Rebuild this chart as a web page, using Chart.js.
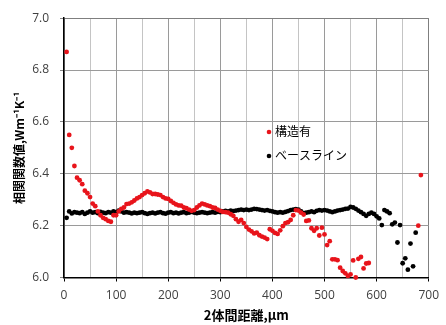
<!DOCTYPE html>
<html>
<head>
<meta charset="utf-8">
<script src="https://cdn.jsdelivr.net/npm/chart.js@4"></script>
<style>
  body { margin: 0; background: #fff; }
  canvas { display: block; }
</style>
</head>
<body>
<canvas id="corrChart" width="446" height="325"></canvas>
<script>
// ====== data ======
const seriesNames = ["構造有", "ベースライン"];

const structDist = [5, 10, 15, 20, 25, 30, 35, 40, 45, 50, 55, 60, 65, 70, 75, 80, 85, 90, 95, 100,
  105, 110, 115, 120, 125, 130, 135, 140, 145, 150, 155, 160, 165, 170, 175, 180, 185, 190, 195, 200,
  205, 210, 215, 220, 225, 230, 235, 240, 245, 250, 255, 260, 265, 270, 275, 280, 285, 290, 295, 300,
  305, 310, 315, 320, 325, 330, 335, 340, 345, 350, 355, 360, 365, 370, 375, 380, 385, 390, 395, 400,
  405, 410, 415, 420, 425, 430, 435, 440, 445, 450, 455, 460, 465, 470, 475, 480, 485, 490, 495, 500,
  505, 510, 515, 520, 525, 530, 535, 540, 545, 550, 555, 560, 565, 570, 575, 580, 585, 680, 685];
const structVal = [6.87, 6.55, 6.50, 6.43, 6.385, 6.375, 6.36, 6.335, 6.325, 6.31, 6.285, 6.275, 6.255, 6.24, 6.23, 6.225, 6.218, 6.215, 6.24, 6.24,
  6.255, 6.265, 6.27, 6.283, 6.285, 6.29, 6.297, 6.305, 6.31, 6.318, 6.325, 6.332, 6.328, 6.322, 6.322, 6.32, 6.318, 6.31, 6.305, 6.303,
  6.295, 6.288, 6.282, 6.278, 6.277, 6.27, 6.267, 6.262, 6.257, 6.26, 6.27, 6.278, 6.285, 6.282, 6.278, 6.275, 6.27, 6.268, 6.262, 6.257,
  6.253, 6.252, 6.25, 6.244, 6.238, 6.225, 6.215, 6.222, 6.21, 6.195, 6.185, 6.178, 6.17, 6.173, 6.163, 6.158, 6.154, 6.148, 6.186, 6.18,
  6.172, 6.168, 6.182, 6.198, 6.21, 6.213, 6.222, 6.24, 6.26, 6.258, 6.25, 6.243, 6.218, 6.22, 6.19, 6.18, 6.19, 6.162, 6.192, 6.166,
  6.125, 6.14, 6.07, 6.07, 6.067, 6.038, 6.025, 6.016, 6.006, 6.012, 6.066, 6.0, 6.072, 6.079, 6.035, 6.054, 6.056, 6.20, 6.395];

const baseDist = [5, 10, 15, 20, 25, 30, 35, 40, 45, 50, 55, 60, 65, 70, 75, 80, 85, 90, 95, 100,
  105, 110, 115, 120, 125, 130, 135, 140, 145, 150, 155, 160, 165, 170, 175, 180, 185, 190, 195, 200,
  205, 210, 215, 220, 225, 230, 235, 240, 245, 250, 255, 260, 265, 270, 275, 280, 285, 290, 295, 300,
  305, 310, 315, 320, 325, 330, 335, 340, 345, 350, 355, 360, 365, 370, 375, 380, 385, 390, 395, 400,
  405, 410, 415, 420, 425, 430, 435, 440, 445, 450, 455, 460, 465, 470, 475, 480, 485, 490, 495, 500,
  505, 510, 515, 520, 525, 530, 535, 540, 545, 550, 555, 560, 565, 570, 575, 580, 585, 590, 595, 600,
  605, 610, 615, 620, 625, 630, 635, 640, 645, 650, 655, 660, 665, 670, 675];
const baseVal = [6.23, 6.255, 6.247, 6.252, 6.25, 6.248, 6.252, 6.245, 6.25, 6.255, 6.25, 6.252, 6.248, 6.253, 6.25, 6.248, 6.252, 6.25, 6.255, 6.252,
  6.258, 6.255, 6.25, 6.252, 6.25, 6.247, 6.25, 6.248, 6.25, 6.252, 6.248, 6.245, 6.248, 6.25, 6.247, 6.25, 6.252, 6.248, 6.246, 6.25,
  6.252, 6.248, 6.25, 6.247, 6.25, 6.252, 6.248, 6.25, 6.253, 6.25, 6.248, 6.25, 6.252, 6.25, 6.248, 6.25, 6.252, 6.25, 6.253, 6.252,
  6.255, 6.257, 6.255, 6.258, 6.256, 6.258, 6.26, 6.262, 6.26, 6.262, 6.26, 6.262, 6.265, 6.264, 6.262, 6.26, 6.258, 6.26, 6.257, 6.255,
  6.252, 6.25, 6.252, 6.25, 6.253, 6.256, 6.26, 6.262, 6.264, 6.262, 6.255, 6.248, 6.25, 6.252, 6.255, 6.252, 6.257, 6.26, 6.258, 6.26,
  6.258, 6.255, 6.252, 6.255, 6.258, 6.26, 6.262, 6.265, 6.266, 6.272, 6.27, 6.265, 6.258, 6.252, 6.245, 6.238, 6.245, 6.25, 6.245, 6.236,
  6.228, 6.202, 6.26, 6.255, 6.248, 6.205, 6.212, 6.135, 6.202, 6.055, 6.074, 6.03, 6.131, 6.043, 6.173];

const xTicks = [0, 100, 200, 300, 400, 500, 600, 700];
const yTicks = [6.0, 6.2, 6.4, 6.6, 6.8, 7.0];

const jpFont = "'Noto Sans CJK JP', sans-serif";
const numFont = "'Open Sans', sans-serif";

// legend drawn inside the plot area
const innerLegend = {
  id: "innerLegend",
  afterDraw(chart) {
    const { ctx, chartArea } = chart;
    const x0 = chartArea.left + 205;
    const rows = [131, 155];
    ctx.save();
    ctx.font = "12px " + jpFont;
    ctx.textBaseline = "middle";
    chart.data.datasets.forEach((ds, i) => {
      ctx.fillStyle = ds.pointBackgroundColor;
      ctx.beginPath();
      ctx.arc(x0, rows[i] + 1, 2.3, 0, Math.PI * 2);
      ctx.fill();
      ctx.fillStyle = "#000";
      ctx.fillText(ds.label, x0 + 6, rows[i]);
    });
    ctx.restore();
  }
};

new Chart(document.getElementById("corrChart"), {
  type: "scatter",
  data: {
    datasets: [{
      label: seriesNames[0],
      data: structDist.map((d, i) => ({ x: d, y: structVal[i] })),
      pointBackgroundColor: "#e8141b",
      pointBorderWidth: 0,
      pointRadius: 2.4,
      clip: false
    }, {
      label: seriesNames[1],
      data: baseDist.map((d, i) => ({ x: d, y: baseVal[i] })),
      pointBackgroundColor: "#000000",
      pointBorderWidth: 0,
      pointRadius: 2.4,
      clip: false
    }]
  },
  options: {
    responsive: false,
    animation: false,
    layout: { padding: { top: 12, right: 11, left: 0, bottom: 0 } },
    plugins: { legend: { display: false }, tooltip: { enabled: false } },
    scales: {
      x: {
        type: "linear",
        min: 0,
        max: 700,
        afterFit: s => { s.height = 47.5; },
        ticks: {
          stepSize: 50,
          padding: 7,
          autoSkip: false,
          maxRotation: 0,
          minRotation: 0,
          color: "#404040",
          font: { family: numFont, size: 12 },
          callback: v => xTicks.includes(v) ? v : ""
        },
        grid: {
          tickLength: 4,
          color: c => c.tick.value === 700 ? "#7f7f7f" : (c.tick.value % 100 === 0 ? "#9a9a9a" : "#c4c4c4"),
          tickColor: c => c.tick.value % 100 === 0 ? "#000" : "rgba(0,0,0,0)"
        },
        border: { color: "#000", width: 1.5 },
        title: {
          display: true,
          text: "2体間距離,μm",
          color: "#000",
          font: { family: jpFont, size: 13, weight: "bold" },
          padding: { top: 0, bottom: 2 }
        }
      },
      y: {
        min: 6.0,
        max: 7.0,
        afterFit: s => { s.width = 64; },
        ticks: {
          stepSize: 0.2,
          padding: 11,
          color: "#404040",
          font: { family: numFont, size: 12 },
          callback: v => yTicks.some(t => Math.abs(t - v) < 1e-6) ? v.toFixed(1) : ""
        },
        grid: {
          tickLength: 4,
          color: c => c.tick.value >= 6.999 ? "#7f7f7f" : "#9a9a9a",
          tickColor: "#8a8a8a"
        },
        border: { color: "#000", width: 1.5 },
        title: {
          display: true,
          text: "相関関数値,Wm⁻¹K⁻¹",
          color: "#000",
          font: { family: jpFont, size: 12, weight: "bold" },
          padding: { top: 12, bottom: 0 }
        }
      }
    }
  },
  plugins: [innerLegend]
});
</script>
</body>
</html>
